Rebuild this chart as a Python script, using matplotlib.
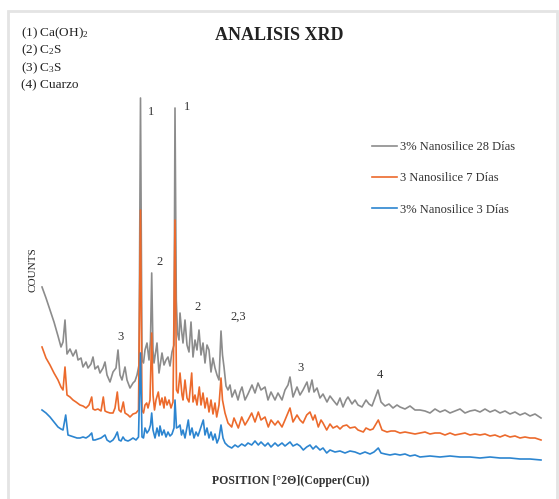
import matplotlib
matplotlib.use("Agg")
import matplotlib.pyplot as plt
from matplotlib.patches import Rectangle

plt.rcParams["font.family"] = ["Liberation Serif", "DejaVu Serif"]
plt.rcParams["mathtext.fontset"] = "custom"
plt.rcParams["mathtext.rm"] = "Liberation Serif"
plt.rcParams["mathtext.it"] = "Liberation Serif:italic"

# position [°2θ] and counts (arbitrary units, stacked)
pos_28 = [4.2, 4.6, 5.0, 5.4, 5.8, 6.1, 6.3, 6.5, 6.7, 7.0, 7.3, 7.6, 7.8, 8.1, 8.3, 8.6, 8.8, 9.1,
          9.3, 9.5, 9.8, 10.0, 10.3, 10.5, 10.7, 11.0, 11.3, 11.6, 11.8, 12.0, 12.2, 12.5, 12.7,
          13.0, 13.3, 13.5, 13.7, 13.9, 14.05, 14.2, 14.35, 14.5, 14.7, 14.9, 15.05, 15.17, 15.3,
          15.4, 15.6, 15.7, 15.9, 16.1, 16.2, 16.4, 16.6, 16.8, 17.0, 17.2, 17.4, 17.5, 17.63,
          17.75, 17.9, 18.0, 18.15, 18.3, 18.5, 18.7, 18.9, 19.1, 19.3, 19.5, 19.7, 19.9, 20.1,
          20.3, 20.5, 20.7, 20.9, 21.1, 21.3, 21.5, 21.7, 21.9, 22.1, 22.25, 22.4, 22.6, 22.8,
          23.0, 23.2, 23.5, 23.8, 24.0, 24.2, 24.5, 24.8, 25.2, 25.5, 25.8, 26.1, 26.5, 26.8,
          27.1, 27.5, 27.8, 28.2, 28.5, 28.8, 29.0, 29.3, 29.7, 30.0, 30.3, 30.7, 30.9, 31.2,
          31.4, 31.7, 32.0, 32.3, 32.7, 33.0, 33.3, 33.7, 34.0, 34.3, 34.6, 34.8, 35.2, 35.5,
          35.8, 36.2, 36.6, 36.9, 37.2, 37.5, 37.8, 38.1, 38.5, 38.9, 39.3, 39.7, 40.0, 40.5,
          41.0, 41.5, 42.0, 42.5, 43.0, 43.5, 44.0, 44.5, 45.0, 45.5, 46.0, 46.5, 47.0, 47.5,
          48.0, 48.5, 49.0, 49.5, 50.0, 50.5, 51.0, 51.5, 52.0, 52.5, 53.0, 53.5, 54.1]
counts_28 = [1830, 1720, 1600, 1480, 1340, 1230, 1280, 1500, 1160, 1210, 1140, 1200, 1100, 1120,
             1030, 1080, 1020, 1060, 1130, 1010, 1040, 970, 1020, 1080, 950, 880, 980, 1020, 1200,
             950, 900, 1030, 900, 820, 870, 890, 950, 1050, 3720, 1100, 1070, 1200, 1270, 1100,
             1300, 1970, 1200, 1070, 1200, 1270, 970, 1100, 1170, 1050, 1100, 1130, 1040, 1180,
             1250, 3620, 1700, 1370, 1300, 1570, 1400, 1270, 1500, 1250, 1180, 1480, 1130, 1300,
             1200, 1400, 1150, 1270, 1070, 1250, 1200, 980, 1120, 1020, 950, 900, 1390, 1150,
             1030, 840, 800, 850, 730, 800, 700, 780, 830, 700, 760, 850, 770, 870, 800, 830,
             700, 780, 700, 770, 700, 800, 850, 930, 730, 830, 750, 800, 880, 780, 900, 780, 820,
             720, 760, 680, 740, 700, 650, 720, 630, 700, 730, 660, 700, 650, 630, 700, 660, 640,
             720, 800, 680, 640, 660, 620, 650, 630, 610, 640, 600, 600, 590, 570, 610, 580, 600,
             570, 590, 610, 570, 590, 600, 580, 610, 580, 600, 570, 590, 560, 580, 550, 570, 540,
             560, 520]

pos_7 = [4.2, 4.6, 5.0, 5.4, 5.8, 6.1, 6.3, 6.5, 6.7, 7.0, 7.3, 7.6, 8.0, 8.3, 8.6, 8.9, 9.17,
         9.3, 9.5, 9.8, 10.1, 10.33, 10.5, 10.7, 11.0, 11.3, 11.5, 11.73, 11.9, 12.1, 12.33, 12.5,
         12.8, 13.0, 13.3, 13.6, 13.85, 14.05, 14.2, 14.35, 14.5, 14.67, 14.8, 15.0, 15.17, 15.3,
         15.45, 15.6, 15.83, 16.0, 16.2, 16.4, 16.5, 16.7, 16.9, 17.1, 17.3, 17.5, 17.65, 17.8,
         18.0, 18.2, 18.3, 18.5, 18.7, 18.9, 19.17, 19.3, 19.5, 19.7, 19.93, 20.1, 20.3, 20.5,
         20.7, 20.9, 21.1, 21.3, 21.5, 21.67, 21.9, 22.1, 22.25, 22.5, 22.8, 23.17, 23.4, 23.83,
         24.17, 24.5, 24.8, 25.17, 25.5, 25.83, 26.1, 26.5, 26.83, 27.1, 27.5, 27.8, 28.2, 28.5,
         29.0, 29.3, 29.7, 30.0, 30.3, 30.67, 31.0, 31.3, 31.5, 31.83, 32.1, 32.3, 32.67, 33.0,
         33.3, 33.7, 34.0, 34.3, 34.67, 35.0, 35.5, 35.8, 36.33, 36.6, 37.0, 37.3, 37.83, 38.2,
         38.7, 39.1, 39.5, 40.0, 40.5, 41.0, 41.5, 42.0, 42.5, 43.0, 43.5, 44.0, 44.5, 45.0,
         45.5, 46.0, 46.5, 47.0, 47.5, 48.0, 48.5, 49.0, 49.5, 50.0, 50.5, 51.0, 51.5, 52.0,
         52.5, 53.0, 53.5, 54.1]
counts_7 = [1230, 1120, 1050, 970, 900, 830, 800, 1030, 750, 730, 700, 680, 650, 640, 620, 650,
            730, 610, 600, 610, 590, 730, 590, 580, 570, 570, 620, 780, 600, 580, 680, 570, 550,
            530, 560, 570, 600, 2600, 600, 570, 650, 670, 620, 700, 1370, 750, 600, 700, 780,
            650, 720, 620, 730, 650, 700, 620, 680, 2500, 800, 770, 970, 750, 700, 900, 720, 680,
            970, 680, 750, 650, 830, 650, 770, 620, 720, 580, 700, 560, 670, 530, 650, 920, 700,
            570, 470, 430, 520, 420, 530, 450, 500, 570, 480, 580, 500, 530, 430, 500, 450, 490,
            430, 500, 620, 480, 550, 500, 470, 550, 580, 500, 550, 430, 500, 470, 400, 460, 420,
            440, 410, 440, 450, 420, 430, 400, 380, 420, 400, 410, 500, 400, 380, 390, 390, 370,
            380, 370, 360, 370, 380, 360, 370, 370, 350, 370, 350, 360, 370, 350, 360, 350, 360,
            340, 350, 330, 350, 330, 340, 320, 330, 320, 320, 300]

pos_3 = [4.2, 4.6, 5.0, 5.4, 5.8, 6.1, 6.3, 6.57, 6.8, 7.1, 7.4, 7.7, 8.0, 8.3, 8.6, 8.9, 9.17,
         9.3, 9.5, 9.8, 10.1, 10.5, 10.7, 11.0, 11.3, 11.5, 11.73, 11.9, 12.1, 12.3, 12.5, 12.8,
         13.0, 13.3, 13.6, 13.85, 14.05, 14.2, 14.35, 14.5, 14.7, 14.9, 15.05, 15.17, 15.3, 15.5,
         15.7, 15.9, 16.0, 16.2, 16.4, 16.6, 16.8, 17.0, 17.2, 17.4, 17.5, 17.65, 17.83, 18.0,
         18.15, 18.3, 18.5, 18.83, 19.0, 19.2, 19.4, 19.6, 19.8, 20.0, 20.33, 20.5, 20.7, 20.9,
         21.1, 21.3, 21.5, 21.7, 21.9, 22.1, 22.3, 22.5, 22.8, 23.17, 23.5, 23.8, 24.17, 24.5,
         24.8, 25.17, 25.5, 25.83, 26.1, 26.5, 26.8, 27.1, 27.5, 27.8, 28.2, 28.5, 29.0, 29.3,
         29.7, 30.0, 30.33, 30.67, 31.0, 31.3, 31.6, 32.0, 32.3, 32.67, 33.0, 33.5, 34.0, 34.5,
         35.0, 35.5, 36.0, 36.5, 37.0, 37.4, 37.83, 38.1, 38.5, 39.0, 39.5, 40.0, 40.5, 41.0,
         41.5, 42.0, 43.0, 44.0, 45.0, 46.0, 47.0, 48.0, 49.0, 50.0, 51.0, 52.0, 53.0, 54.1]
counts_3 = [600, 570, 530, 480, 430, 410, 400, 550, 350, 340, 330, 320, 320, 330, 320, 340, 370,
            300, 300, 310, 320, 350, 300, 280, 300, 330, 380, 300, 290, 330, 300, 290, 300, 320,
            300, 330, 1170, 330, 320, 420, 370, 400, 450, 570, 400, 320, 420, 340, 440, 350, 400,
            330, 380, 340, 360, 420, 700, 420, 430, 450, 350, 400, 320, 500, 350, 420, 320, 380,
            340, 400, 500, 350, 420, 320, 380, 300, 360, 270, 320, 450, 320, 270, 240, 220, 250,
            230, 260, 240, 270, 250, 290, 250, 280, 240, 270, 230, 270, 240, 270, 240, 280, 240,
            260, 240, 200, 230, 250, 210, 240, 200, 220, 170, 200, 180, 190, 170, 190, 180, 160,
            180, 160, 180, 220, 170, 160, 150, 160, 150, 160, 140, 150, 130, 140, 130, 140, 130,
            130, 120, 130, 120, 120, 110, 110, 100]

series = [
    ("3% Nanosilice 28 Días", pos_28, counts_28, "#8c8c8c"),
    ("3 Nanosilice 7 Días", pos_7, counts_7, "#ec6a2c"),
    ("3% Nanosilice 3 Días", pos_3, counts_3, "#2c85d0"),
]

phases = [r"(1) Ca(OH)$_2$", r"(2) C$_2$S", r"(3) C$_3$S", "(4) Cuarzo"]

# peak identification labels: (text, position, counts)
peak_labels = [("1", 15.07, 3580), ("1", 18.67, 3630), ("2", 16.0, 2080), ("2", 19.73, 1630),
               ("2,3", 23.83, 1530), ("3", 12.07, 1330), ("3", 30.0, 1020), ("4", 38.0, 950)]

fig = plt.figure(figsize=(5.59, 4.99), dpi=100)
fig.patch.set_facecolor("white")
fig.patches.append(Rectangle((8 / 559, -0.01), 549 / 559, 1 - 11 / 499 + 0.01,
                             transform=fig.transFigure, fill=False,
                             edgecolor="#e4e4e4", linewidth=2.0))

ax = fig.add_axes([0, 0, 1, 1])
ax.set_xlim(0, 55.9)
ax.set_ylim(-290, 4700)
ax.axis("off")

handles = []
for label, x, y, color in series:
    ln, = ax.plot(x, y, color=color, linewidth=1.2, label=label)
    handles.append(ln)

for txt, x, y in peak_labels:
    ax.text(x, y, txt, fontsize=9, ha="center", va="center", color="#333333")

fig.text(279 / 559, 1 - 36 / 499, "ANALISIS XRD", fontsize=13, fontweight="bold",
         ha="center", va="center", color="#222222")

for i, p in enumerate(phases):
    fig.text(21 / 559, 1 - (33 + 17.5 * i) / 499, p, fontsize=9.5, ha="left", va="center",
             color="#222222")

fig.text(33 / 559, 1 - 270 / 499, "COUNTS", fontsize=8, rotation=90, ha="center",
         va="center", color="#222222")
fig.text(291 / 559, 1 - 481 / 499, "POSITION [°2Θ](Copper(Cu))", fontsize=8.5,
         fontweight="bold", ha="center", va="center", color="#333333")

leg = fig.legend(handles=handles, loc="upper left", bbox_to_anchor=(372 / 559, 1 - 141 / 499),
                 frameon=False, fontsize=9, handlelength=2.0, handletextpad=0.25,
                 labelspacing=1.55, borderpad=0, borderaxespad=0)
for t in leg.get_texts():
    t.set_color("#333333")

fig.savefig("out.png", dpi=100)
